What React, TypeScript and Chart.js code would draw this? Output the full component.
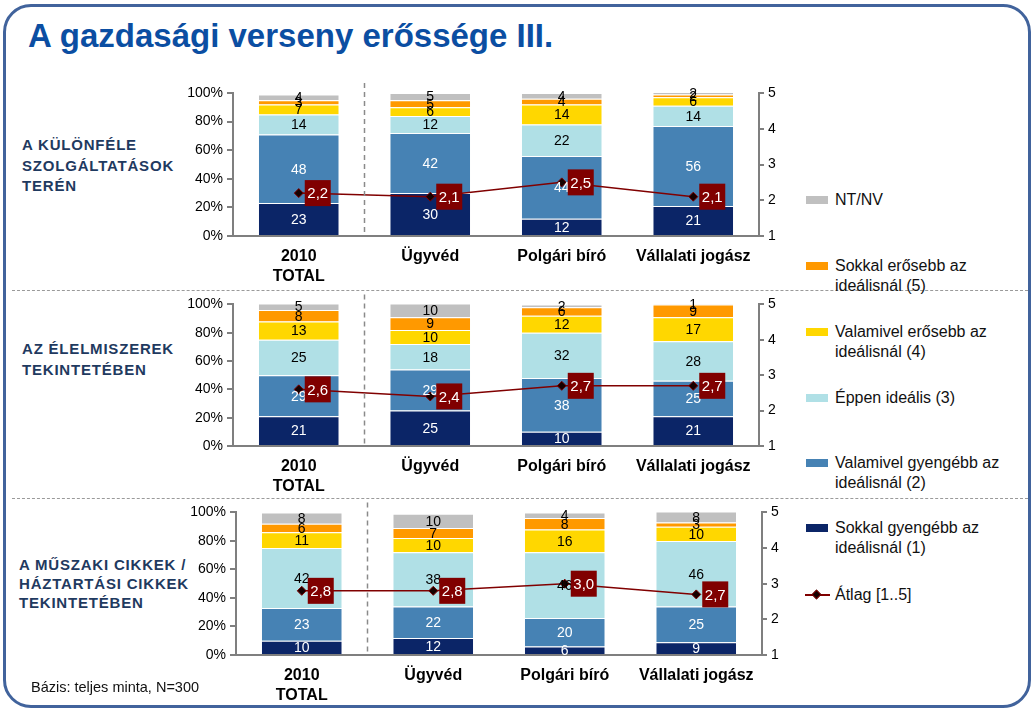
import React, { useEffect, useRef } from 'react';
import { Chart, registerables } from 'chart.js';

Chart.register(...registerables);

const FONT = '"Liberation Sans", Arial, sans-serif';

const categories: (string | string[])[] = [['2010', 'TOTAL'], 'Ügyvéd', 'Polgári bíró', 'Vállalati jogász'];

const seriesNames = [
  'Sokkal gyengébb az ideálisnál (1)',
  'Valamivel gyengébb az ideálisnál (2)',
  'Éppen ideális (3)',
  'Valamivel erősebb az ideálisnál (4)',
  'Sokkal erősebb az ideálisnál (5)',
  'NT/NV',
];
const seriesColors = ['#0b2567', '#4682b4', '#b0e0e6', '#ffd700', '#ff9900', '#c0c0c0'];
const avgName = 'Átlag [1..5]';
const leftTickSuffix = '%';

// Panel 1: A különféle szolgáltatások terén
const szolg1 = [23, 30, 12, 21];
const szolg2 = [48, 42, 44, 56];
const szolg3 = [14, 12, 22, 14];
const szolg4 = [7, 6, 14, 6];
const szolg5 = [3, 5, 4, 2];
const szolgNT = [4, 5, 4, 2];
const szolgAvg = [2.2, 2.1, 2.5, 2.1];

// Panel 2: Az élelmiszerek tekintetében
const elel1 = [21, 25, 10, 21];
const elel2 = [29, 29, 38, 25];
const elel3 = [25, 18, 32, 28];
const elel4 = [13, 10, 12, 17];
const elel5 = [8, 9, 6, 9];
const elelNT = [5, 10, 2, 1];
const elelAvg = [2.6, 2.4, 2.7, 2.7];

// Panel 3: A műszaki cikkek / háztartási cikkek tekintetében
const musz1 = [10, 12, 6, 9];
const musz2 = [23, 22, 20, 25];
const musz3 = [42, 38, 46, 46];
const musz4 = [11, 10, 16, 10];
const musz5 = [6, 7, 8, 3];
const muszNT = [8, 10, 4, 8];
const muszAvg = [2.8, 2.8, 3.0, 2.7];

const legendItems = [
  { label: 'NT/NV', color: '#c0c0c0', y: 200 },
  { label: 'Sokkal erősebb az\nideálisnál (5)', color: '#ff9900', y: 266 },
  { label: 'Valamivel erősebb az\nideálisnál (4)', color: '#ffd700', y: 332 },
  { label: 'Éppen ideális (3)', color: '#b0e0e6', y: 398 },
  { label: 'Valamivel gyengébb az\nideálisnál (2)', color: '#4682b4', y: 463 },
  { label: 'Sokkal gyengébb az\nideálisnál (1)', color: '#0b2567', y: 528 },
];

const overlayPlugin = {
  id: 'overlayLabels',
  afterDatasetsDraw(chart: any) {
    const ctx = chart.ctx;
    const area = chart.chartArea;
    const xs = chart.scales.x;
    const xm = (xs.getPixelForValue(0) + xs.getPixelForValue(1)) / 2;
    ctx.save();
    ctx.strokeStyle = '#8a8a8a';
    ctx.lineWidth = 1.5;
    ctx.setLineDash([5, 4]);
    ctx.beginPath();
    ctx.moveTo(xm, area.top - 10);
    ctx.lineTo(xm, area.bottom);
    ctx.stroke();
    ctx.restore();

    ctx.save();
    ctx.textAlign = 'center';
    ctx.textBaseline = 'middle';
    ctx.font = `14px ${FONT}`;
    chart.data.datasets.forEach((ds: any, di: number) => {
      if (ds.type === 'line') return;
      const meta = chart.getDatasetMeta(di);
      meta.data.forEach((el: any, i: number) => {
        const v = ds.data[i];
        if (!v) return;
        const p = el.getProps(['x', 'y', 'base'], true);
        ctx.fillStyle = di < 2 ? '#ffffff' : '#000000';
        ctx.fillText(String(v), p.x, (p.y + p.base) / 2 + 1);
      });
    });
    chart.data.datasets.forEach((ds: any, di: number) => {
      if (ds.type !== 'line') return;
      const meta = chart.getDatasetMeta(di);
      meta.data.forEach((el: any, i: number) => {
        const v = ds.data[i];
        const p = el.getProps(['x', 'y'], true);
        ctx.fillStyle = '#800000';
        ctx.fillRect(p.x + 6, p.y - 13, 26, 26);
        ctx.fillStyle = '#ffffff';
        ctx.font = `15px ${FONT}`;
        ctx.fillText(v.toFixed(1).replace('.', ','), p.x + 19, p.y + 1);
      });
    });
    ctx.restore();
  },
};

type PanelProps = {
  left: number;
  top: number;
  width: number;
  height: number;
  plotLeft: number;
  plotRight: number;
  plotTop: number;
  plotBottom: number;
  series: number[][];
  avg: number[];
};

function Panel(props: PanelProps) {
  const ref = useRef<HTMLCanvasElement>(null);
  useEffect(() => {
    if (!ref.current) return;
    const { left, top, width, height, plotLeft, plotRight, plotTop, plotBottom, series, avg } = props;
    const yWidth = plotLeft - left;
    const y2Width = left + width - plotRight;
    const padTop = plotTop - top;
    const xHeight = top + height - plotBottom;
    const axisColor = '#7f7f7f';
    const datasets: any[] = series.map((d, i) => ({
      type: 'bar',
      label: seriesNames[i],
      data: d,
      backgroundColor: seriesColors[i],
      borderColor: '#ffffff',
      borderWidth: 1,
      barPercentage: 0.62,
      categoryPercentage: 1,
      yAxisID: 'y',
      order: 1,
    }));
    datasets.push({
      type: 'line',
      label: avgName,
      data: avg,
      yAxisID: 'y2',
      borderColor: '#800000',
      borderWidth: 1.5,
      pointStyle: 'rectRot',
      pointRadius: 4.5,
      pointBackgroundColor: '#150000',
      pointBorderColor: '#800000',
      pointBorderWidth: 1,
      order: 0,
    });
    const chart = new Chart(ref.current, {
      type: 'bar',
      data: { labels: categories as any, datasets },
      options: {
        responsive: false,
        animation: false,
        layout: { padding: { top: padTop, left: 0, right: 0, bottom: 0 } },
        plugins: { legend: { display: false }, tooltip: { enabled: false } },
        scales: {
          x: {
            stacked: true,
            grid: { display: false, drawTicks: false },
            border: { display: true, color: axisColor, width: 2 },
            ticks: {
              font: { family: FONT, size: 16, weight: 'bold', lineHeight: 1.25 },
              color: '#000',
              padding: 11,
              maxRotation: 0,
              autoSkip: false,
            },
            afterFit: (s: any) => {
              s.height = xHeight;
            },
          },
          y: {
            stacked: true,
            min: 0,
            max: 100,
            ticks: {
              stepSize: 20,
              callback: (v: any) => v + leftTickSuffix,
              font: { family: FONT, size: 14 },
              color: '#000',
              padding: 4,
            },
            grid: { drawOnChartArea: false, drawTicks: true, tickLength: 6, color: axisColor, lineWidth: 2 },
            border: { display: true, color: axisColor, width: 2 },
            afterFit: (s: any) => {
              s.width = yWidth;
            },
          },
          y2: {
            position: 'right',
            min: 1,
            max: 5,
            ticks: {
              stepSize: 1,
              font: { family: FONT, size: 14 },
              color: '#000',
              padding: 4,
            },
            grid: { drawOnChartArea: false, drawTicks: true, tickLength: 5, color: axisColor, lineWidth: 2 },
            border: { display: true, color: axisColor, width: 2 },
            afterFit: (s: any) => {
              s.width = y2Width;
            },
          },
        },
      } as any,
      plugins: [overlayPlugin],
    });
    return () => chart.destroy();
  }, []);
  return (
    <canvas
      ref={ref}
      width={props.width}
      height={props.height}
      style={{ position: 'absolute', left: props.left, top: props.top, width: props.width, height: props.height }}
    />
  );
}

const panelLabelStyle: React.CSSProperties = {
  position: 'absolute',
  fontFamily: FONT,
  fontWeight: 'bold',
  fontSize: 15,
  letterSpacing: '0.8px',
  color: '#1f3a60',
  whiteSpace: 'pre',
};

export default function App() {
  return (
    <div style={{ position: 'absolute', left: 0, top: 0, width: 1033, height: 709, background: '#fff', overflow: 'hidden', fontFamily: FONT }}>
      <div
        style={{
          position: 'absolute',
          left: 3,
          top: 4,
          width: 1028,
          height: 704,
          boxSizing: 'border-box',
          border: '3px solid #41639c',
          borderRadius: 28,
        }}
      />
      <div
        style={{
          position: 'absolute',
          left: 28,
          top: 19,
          fontSize: 33,
          lineHeight: 1,
          fontWeight: 'bold',
          color: '#0b4ea2',
          whiteSpace: 'nowrap',
        }}
      >
        A gazdasági verseny erőssége III.
      </div>

      <div style={{ position: 'absolute', left: 12, top: 290, width: 1016, borderTop: '1.5px dashed #9a9a9a' }} />
      <div style={{ position: 'absolute', left: 12, top: 498, width: 1016, borderTop: '1.5px dashed #9a9a9a' }} />

      <div style={{ ...panelLabelStyle, left: 22, top: 135, lineHeight: '20.5px' }}>{'A KÜLÖNFÉLE\nSZOLGÁLTATÁSOK\nTERÉN'}</div>
      <div style={{ ...panelLabelStyle, left: 22, top: 339, lineHeight: '20.5px' }}>{'AZ ÉLELMISZEREK\nTEKINTETÉBEN'}</div>
      <div style={{ ...panelLabelStyle, left: 19, top: 555, lineHeight: '19px' }}>{'A MŰSZAKI CIKKEK /\nHÁZTARTÁSI CIKKEK\nTEKINTETÉBEN'}</div>

      <Panel
        left={160}
        top={80}
        width={640}
        height={210}
        plotLeft={233}
        plotRight={759}
        plotTop={93}
        plotBottom={236}
        series={[szolg1, szolg2, szolg3, szolg4, szolg5, szolgNT]}
        avg={szolgAvg}
      />
      <Panel
        left={160}
        top={292}
        width={640}
        height={206}
        plotLeft={233}
        plotRight={759}
        plotTop={302}
        plotBottom={446}
        series={[elel1, elel2, elel3, elel4, elel5, elelNT]}
        avg={elelAvg}
      />
      <Panel
        left={163}
        top={500}
        width={640}
        height={209}
        plotLeft={236}
        plotRight={762}
        plotTop={511}
        plotBottom={655}
        series={[musz1, musz2, musz3, musz4, musz5, muszNT]}
        avg={muszAvg}
      />

      {legendItems.map((it) => (
        <React.Fragment key={it.label}>
          <div style={{ position: 'absolute', left: 806, top: it.y - 4, width: 22, height: 8, background: it.color }} />
          <div
            style={{
              position: 'absolute',
              left: 835,
              top: it.y - 10.25,
              fontSize: 16,
              lineHeight: '20.5px',
              color: '#111',
              whiteSpace: 'pre',
            }}
          >
            {it.label}
          </div>
        </React.Fragment>
      ))}
      <div style={{ position: 'absolute', left: 805, top: 594, width: 25, height: 2, background: '#800000' }} />
      <div
        style={{
          position: 'absolute',
          left: 813,
          top: 591,
          width: 7,
          height: 7,
          background: '#150000',
          border: '1px solid #800000',
          transform: 'rotate(45deg)',
          boxSizing: 'border-box',
        }}
      />
      <div style={{ position: 'absolute', left: 835, top: 595 - 10.25, fontSize: 16, lineHeight: '20.5px', color: '#111', whiteSpace: 'pre' }}>
        {avgName}
      </div>

      <div style={{ position: 'absolute', left: 31, top: 678, fontSize: 14.5, lineHeight: '18px', color: '#111', whiteSpace: 'pre' }}>
        Bázis: teljes minta, N=300
      </div>
    </div>
  );
}
